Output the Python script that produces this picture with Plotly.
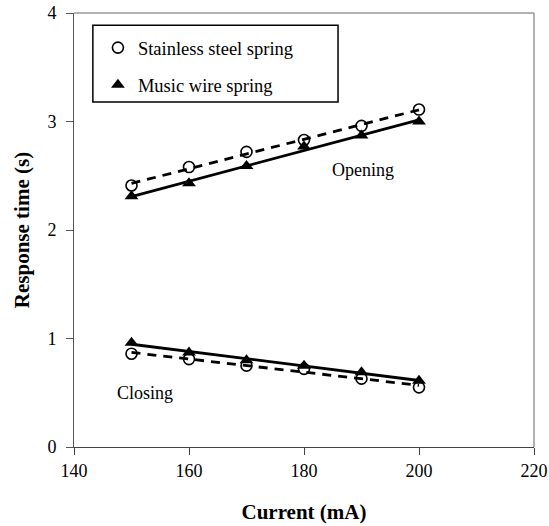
import numpy as np
import plotly.graph_objects as go

current = [150, 160, 170, 180, 190, 200]
ss_open = [2.41, 2.58, 2.72, 2.83, 2.96, 3.11]
mw_open = [2.31, 2.43, 2.59, 2.77, 2.87, 3.00]
ss_close = [0.86, 0.81, 0.75, 0.72, 0.63, 0.55]
mw_close = [0.96, 0.87, 0.80, 0.75, 0.69, 0.61]

FONT = "Liberation Serif"

def fit(x, y):
    c = np.polyfit(x, y, 1)
    xs = np.array([min(x), max(x)])
    return xs, np.polyval(c, xs)

fig = go.Figure()

# trend lines
for y, dash in [(ss_open, "9px,7px"), (ss_close, "9px,7px"), (mw_open, "solid"), (mw_close, "solid")]:
    xs, ys = fit(current, y)
    fig.add_trace(go.Scatter(x=xs, y=ys, mode="lines", showlegend=False,
                             line=dict(color="black", width=2.8, dash=dash), hoverinfo="skip"))

# markers
fig.add_trace(go.Scatter(x=current, y=ss_open, mode="markers", name="Stainless steel spring",
                         legendgroup="ss",
                         marker=dict(symbol="circle-open", size=11, color="black", line=dict(width=1.6))))
fig.add_trace(go.Scatter(x=current, y=ss_close, mode="markers", showlegend=False, legendgroup="ss",
                         marker=dict(symbol="circle-open", size=11, color="black", line=dict(width=1.6))))
fig.add_trace(go.Scatter(x=current, y=mw_open, mode="markers", name="Music wire spring",
                         legendgroup="mw",
                         marker=dict(symbol="triangle-up", size=12, color="black")))
fig.add_trace(go.Scatter(x=current, y=mw_close, mode="markers", showlegend=False, legendgroup="mw",
                         marker=dict(symbol="triangle-up", size=12, color="black")))

fig.update_layout(
    width=549, height=526,
    margin=dict(l=74, r=15, t=13, b=79),
    paper_bgcolor="white", plot_bgcolor="white",
    font=dict(family=FONT, size=18, color="black"),
    showlegend=True,
    legend=dict(x=0.052, y=0.963, xanchor="left", yanchor="top",
                bgcolor="rgba(0,0,0,0)", borderwidth=0,
                font=dict(family=FONT, size=18.5, color="black"),
                tracegroupgap=10),
    xaxis=dict(range=[140, 220], tickvals=[140, 160, 180, 200, 220], automargin=False,
               showgrid=False, zeroline=False, showline=True, linecolor="#444", linewidth=1,
               ticks="outside", ticklen=7, tickcolor="#444",
               tickfont=dict(family=FONT, size=18),
               title=dict(text="<b>Current (mA)</b>", font=dict(family=FONT, size=21), standoff=24)),
    yaxis=dict(range=[0, 4], tickvals=[0, 1, 2, 3, 4], automargin=False,
               showgrid=False, zeroline=False, showline=True, linecolor="#555", linewidth=1,
               ticks="outside", ticklen=7, tickcolor="#555", ticklabelstandoff=6,
               tickfont=dict(family=FONT, size=18),
               title=dict(text="<b>Response time (s)</b>", font=dict(family=FONT, size=21), standoff=12)),
    shapes=[
        dict(type="line", xref="paper", yref="paper", x0=0, x1=1, y0=1, y1=1,
             line=dict(color="#999", width=1.5)),
        dict(type="line", xref="paper", yref="paper", x0=1, x1=1, y0=0, y1=1,
             line=dict(color="#999", width=1.5)),
        dict(type="rect", xref="paper", yref="paper", x0=0.041, x1=0.574, y0=0.795, y1=0.972,
             line=dict(color="black", width=1.5), fillcolor="rgba(0,0,0,0)"),
    ],
    annotations=[
        dict(x=190.3, y=2.55, text="Opening", showarrow=False, font=dict(family=FONT, size=18)),
        dict(x=152.3, y=0.50, text="Closing", showarrow=False, font=dict(family=FONT, size=18)),
    ],
)

fig.write_html("out.html")
